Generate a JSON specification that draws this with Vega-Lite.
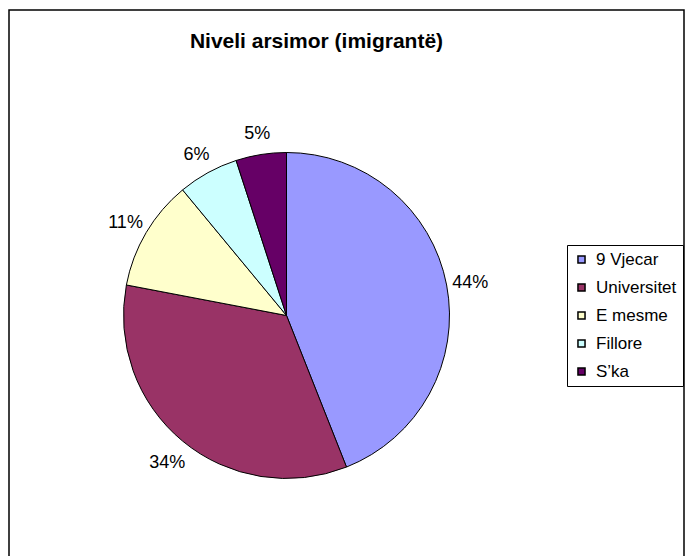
{
  "$schema": "https://vega.github.io/schema/vega-lite/v6.json",
  "width": 689,
  "height": 556,
  "autosize": {"type": "fit", "contains": "padding"},
  "padding": {"left": 9, "top": 10, "right": 5, "bottom": -3},
  "background": "white",
  "view": {"stroke": "black", "strokeWidth": 1.5, "fill": "white"},
  "config": {
    "view": {"stroke": "black", "strokeWidth": 1.5},
    "font": "Liberation Sans"
  },
  "title": {
    "text": "Niveli arsimor (imigrantë)",
    "font": "Liberation Sans",
    "fontSize": 21,
    "fontWeight": "bold",
    "color": "black",
    "anchor": "middle",
    "frame": "group",
    "baseline": "alphabetic",
    "offset": -59,
    "dx": -30
  },
  "data": {
    "values": [
      {"category": "9 Vjecar", "value": 44, "order": 1, "label": "44%"},
      {"category": "Universitet", "value": 34, "order": 2, "label": "34%"},
      {"category": "E mesme", "value": 11, "order": 3, "label": "11%"},
      {"category": "Fillore", "value": 6, "order": 4, "label": "6%"},
      {"category": "S’ka", "value": 5, "order": 5, "label": "5%"}
    ]
  },
  "layer": [
    {
      "mark": {
        "type": "arc",
        "outerRadius": 163,
        "stroke": "black",
        "strokeWidth": 1,
        "x": {"expr": "width/2 - 60"},
        "y": {"expr": "height/2 + 31"}
      },
      "encoding": {
        "theta": {"field": "value", "type": "quantitative", "stack": true},
        "order": {"field": "order", "type": "quantitative"},
        "color": {
          "field": "category",
          "type": "nominal",
          "scale": {
            "domain": ["9 Vjecar", "Universitet", "E mesme", "Fillore", "S’ka"],
            "range": ["#9999FF", "#993366", "#FFFFCC", "#CCFFFF", "#660066"]
          },
          "legend": {
            "title": null,
            "orient": "none",
            "legendX": 558,
            "legendY": 235,
            "symbolType": "square",
            "symbolSize": 50,
            "symbolStrokeColor": "black",
            "labelFont": "Liberation Sans",
            "labelFontSize": 17,
            "labelColor": "black",
            "labelLimit": 200,
            "labelOffset": 6,
            "rowPadding": 10,
            "padding": 6,
            "strokeColor": "black",
            "fillColor": "white"
          }
        }
      }
    },
    {
      "mark": {
        "type": "text",
        "radius": 187,
        "dy": 3,
        "font": "Liberation Sans",
        "fontSize": 18,
        "color": "black",
        "x": {"expr": "width/2 - 60"},
        "y": {"expr": "height/2 + 31"}
      },
      "encoding": {
        "theta": {"field": "value", "type": "quantitative", "stack": true},
        "order": {"field": "order", "type": "quantitative"},
        "text": {"field": "label", "type": "nominal"}
      }
    }
  ]
}
